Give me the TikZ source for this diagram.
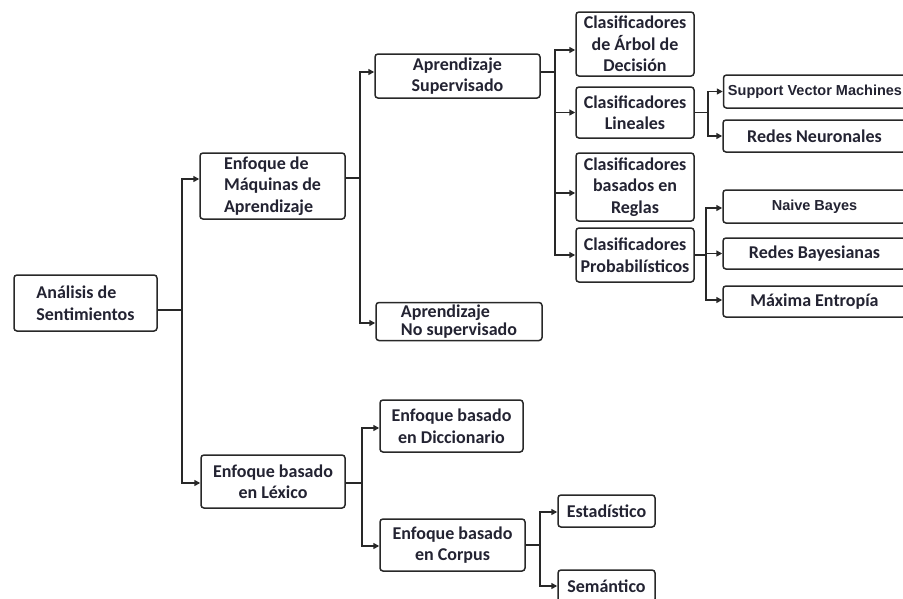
\documentclass[tikz,border=0pt]{standalone}
\usepackage{fontspec}
\setmainfont{Carlito}
\newfontfamily\arialf{Liberation Sans}
\usetikzlibrary{arrows.meta}
\definecolor{txt}{RGB}{35,35,50}
\definecolor{lnc}{RGB}{40,40,40}
\begin{document}
\begin{tikzpicture}[x=1pt,y=-1pt,
  box/.style={draw=lnc, line width=1.5pt, rounded corners=3pt, fill=white, inner sep=0pt, align=center, text=txt, font=\fontsize{18}{21.5}\selectfont\bfseries},
  abox/.style={box, font=\arialf\fontsize{14.5}{16}\selectfont\bfseries},
  arr/.style={draw=lnc, line width=1.6pt, -{Triangle[length=6pt,width=6pt]}}]
\useasboundingbox (0,0) rectangle (903,598);
\clip (0,0) rectangle (903,598);
\coordinate (t1) at (182,0);
\coordinate (t2) at (360,0);
\coordinate (t3) at (555,0);
\coordinate (t4) at (708,0);
\coordinate (t5) at (706,0);
\coordinate (t6) at (362,0);
\coordinate (t7) at (540,0);

\node[box, minimum width=143pt, minimum height=56pt, align=left] (ana) at (85.5,303) {Análisis de\\Sentimientos};
\node[box, minimum width=145pt, minimum height=66pt, align=left] (maq) at (272.5,186) {Enfoque de\\Máquinas de\\Aprendizaje};
\node[box, minimum width=165pt, minimum height=44pt] (sup) at (457.5,76) {Aprendizaje\\Supervisado};
\node[box, minimum width=166pt, minimum height=38pt, align=left, font=\fontsize{18}{18.5}\selectfont\bfseries] (nosup) at (459,321.5) {Aprendizaje\\No supervisado};
\node[box, minimum width=118pt, minimum height=64pt] (arb) at (635,44) {Clasificadores\\de Árbol de\\Decisión};
\node[box, minimum width=118pt, minimum height=51pt] (lin) at (635,112.5) {Clasificadores\\Lineales};
\node[box, minimum width=118pt, minimum height=68pt] (reg) at (635,187) {Clasificadores\\basados en\\Reglas};
\node[box, minimum width=118pt, minimum height=54pt] (prob) at (635,255) {Clasificadores\\Probabilísticos};
\node[abox, minimum width=183pt, minimum height=33pt] (svm) at (815,91.5) {Support Vector Machines};
\node[box, minimum width=183pt, minimum height=32pt] (rn) at (814.5,136) {Redes Neuronales};
\node[abox, minimum width=183pt, minimum height=33pt] (nb) at (814.5,206.5) {Naive Bayes};
\node[box, minimum width=183pt, minimum height=31pt] (rb) at (814.5,253.5) {Redes Bayesianas};
\node[box, minimum width=183pt, minimum height=31pt] (me) at (814.5,301.5) {Máxima Entropía};
\node[box, minimum width=144pt, minimum height=53pt] (lex) at (273,481.5) {Enfoque basado\\en Léxico};
\node[box, minimum width=143pt, minimum height=52pt] (dic) at (451.5,426) {Enfoque basado\\en Diccionario};
\node[box, minimum width=145pt, minimum height=52pt] (cor) at (452.5,545) {Enfoque basado\\en Corpus};
\node[box, minimum width=97pt, minimum height=32pt] (est) at (606.5,511) {Estadístico};
\node[box, minimum width=97pt, minimum height=32pt] (sem) at (606.5,586) {Semántico};

\draw[arr] ([yshift=-7pt]ana.east) -- ([yshift=-7pt]ana.east -| t1) |- ([yshift=7pt]maq.west);
\draw[arr] ([yshift=-7pt]ana.east) -- ([yshift=-7pt]ana.east -| t1) |- ([yshift=-1.5pt]lex.west);

\draw[arr] ([yshift=8pt]maq.east) -- ([yshift=8pt]maq.east -| t2) |- ([yshift=4pt]sup.west);
\draw[arr] ([yshift=8pt]maq.east) -- ([yshift=8pt]maq.east -| t2) |- ([yshift=-1.5pt]nosup.west);

\draw[arr] ([yshift=4pt]sup.east) -- ([yshift=4pt]sup.east -| t3) |- ([yshift=-6pt]arb.west);
\draw[arr] ([yshift=4pt]sup.east) -- ([yshift=4pt]sup.east -| t3) |- (lin.west);
\draw[arr] ([yshift=4pt]sup.east) -- ([yshift=4pt]sup.east -| t3) |- ([yshift=-6pt]reg.west);
\draw[arr] ([yshift=4pt]sup.east) -- ([yshift=4pt]sup.east -| t3) |- (prob.west);

\draw[arr] (lin.east) -- (lin.east -| t4) |- (svm.west);
\draw[arr] (lin.east) -- (lin.east -| t4) |- (rn.west);

\draw[arr] (prob.east) -- (prob.east -| t5) |- ([yshift=-1.5pt]nb.west);
\draw[arr] (prob.east) -- (prob.east -| t5) |- (rb.west);
\draw[arr] (prob.east) -- (prob.east -| t5) |- ([yshift=1.5pt]me.west);

\draw[arr] ([yshift=-1.5pt]lex.east) -- ([yshift=-1.5pt]lex.east -| t6) |- ([yshift=-2pt]dic.west);
\draw[arr] ([yshift=-1.5pt]lex.east) -- ([yshift=-1.5pt]lex.east -| t6) |- ([yshift=-1pt]cor.west);

\draw[arr] (cor.east) -- (cor.east -| t7) |- ([yshift=-1pt]est.west);
\draw[arr] (cor.east) -- (cor.east -| t7) |- (sem.west);
\end{tikzpicture}
\end{document}
